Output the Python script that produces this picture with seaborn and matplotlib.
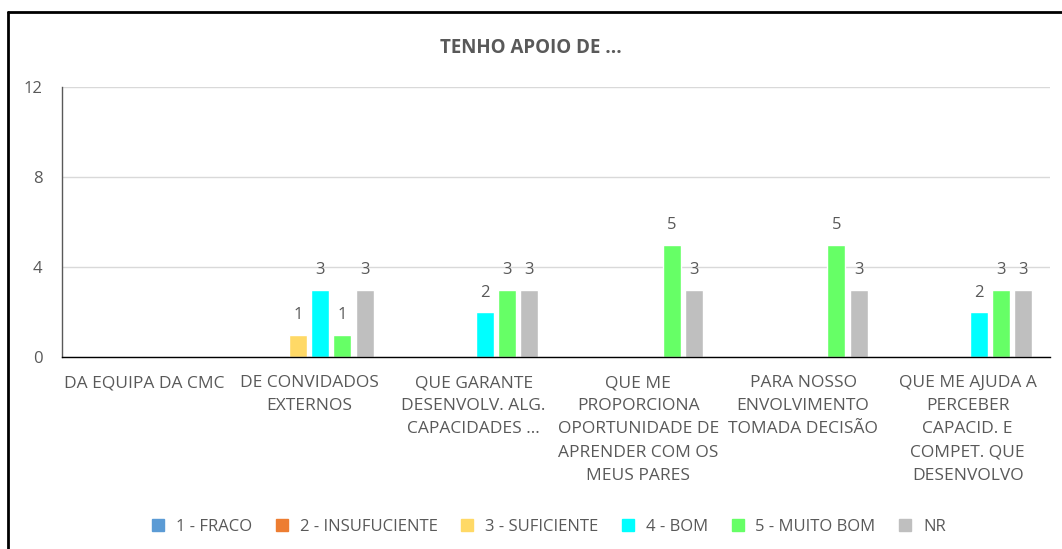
import matplotlib
matplotlib.use("Agg")
import matplotlib.pyplot as plt
from matplotlib.lines import Line2D
import seaborn as sns
import pandas as pd

categories = [
    "DA EQUIPA DA CMC",
    "DE CONVIDADOS\nEXTERNOS",
    "QUE GARANTE\nDESENVOLV. ALG.\nCAPACIDADES ...",
    "QUE ME\nPROPORCIONA\nOPORTUNIDADE DE\nAPRENDER COM OS\nMEUS PARES",
    "PARA NOSSO\nENVOLVIMENTO\nTOMADA DECISÃO",
    "QUE ME AJUDA A\nPERCEBER\nCAPACID. E\nCOMPET. QUE\nDESENVOLVO",
]
series = ["1 - FRACO", "2 - INSUFUCIENTE", "3 - SUFICIENTE", "4 - BOM", "5 - MUITO BOM", "NR"]
fraco = [0, 0, 0, 0, 0, 0]
insuficiente = [0, 0, 0, 0, 0, 0]
suficiente = [0, 1, 0, 0, 0, 0]
bom = [0, 3, 2, 0, 0, 2]
muito_bom = [0, 1, 3, 5, 5, 3]
nr = [0, 3, 3, 3, 3, 3]
yticks = [0, 4, 8, 12]
colors = ["#5B9BD5", "#ED7D31", "#FFD966", "#00FFFF", "#66FF66", "#BFBFBF"]

values = [fraco, insuficiente, suficiente, bom, muito_bom, nr]
rows = []
for s, vals in zip(series, values):
    for c, v in zip(categories, vals):
        rows.append({"cat": c, "serie": s, "val": v})
df = pd.DataFrame(rows)

sns.set_theme(style="white")
plt.rcParams["font.family"] = ["Open Sans", "DejaVu Sans"]
txt = "#595959"

fig = plt.figure(figsize=(10.62, 5.49), dpi=100)
ax = fig.add_axes([0.0584, 0.3497, 0.9303, 0.4918])

sns.barplot(data=df, x="cat", y="val", hue="serie", hue_order=series, order=categories,
            palette=colors, width=0.81, gap=0.19, ax=ax, legend=False, saturation=1,
            errorbar=None)

for cont in ax.containers:
    labels = [f"{int(v)}" if v > 0 else "" for v in cont.datavalues]
    ax.bar_label(cont, labels=labels, padding=8, color=txt, fontsize=12)

ax.set_ylim(0, 12)
ax.set_yticks(yticks)
ax.set_xlim(-0.5, len(categories) - 0.5)
ax.set_xlabel("")
ax.set_ylabel("")
ax.yaxis.grid(True, color="#D9D9D9", linewidth=1)
ax.set_axisbelow(True)
for sp in ["top", "right"]:
    ax.spines[sp].set_visible(False)
ax.spines["left"].set_color("#595959")
ax.spines["left"].set_linewidth(1)
ax.spines["bottom"].set_color("#000000")
ax.spines["bottom"].set_linewidth(1)
ax.tick_params(axis="y", length=0, colors=txt, labelsize=12, pad=14)
ax.tick_params(axis="x", length=0, colors=txt, labelsize=12.5, pad=13)
for lab in ax.get_xticklabels():
    lab.set_linespacing(1.6)
    lab.set_verticalalignment("top")

fig.text(0.5, 0.912, "TENHO APOIO DE ...", ha="center", va="center",
         fontsize=13.5, fontweight="bold", color=txt,
         family=["Liberation Sans Narrow", "Open Sans", "DejaVu Sans"])

handles = [Line2D([0], [0], marker="s", linestyle="", markersize=8,
                  markerfacecolor=c, markeredgecolor=c) for c in colors]
fig.legend(handles, series, loc="center", bbox_to_anchor=(0.512, 0.04), ncol=6,
           frameon=False, fontsize=12, labelcolor=txt, handletextpad=0.05,
           columnspacing=0.8)

# outer border lines
fig.add_artist(Line2D([8 / 1062, 1.0], [1 - 12 / 549, 1 - 12 / 549],
                      transform=fig.transFigure, color="black", linewidth=2))
fig.add_artist(Line2D([8 / 1062, 8 / 1062], [0, 1 - 12 / 549],
                      transform=fig.transFigure, color="black", linewidth=2))

fig.savefig("out.png", dpi=100)
